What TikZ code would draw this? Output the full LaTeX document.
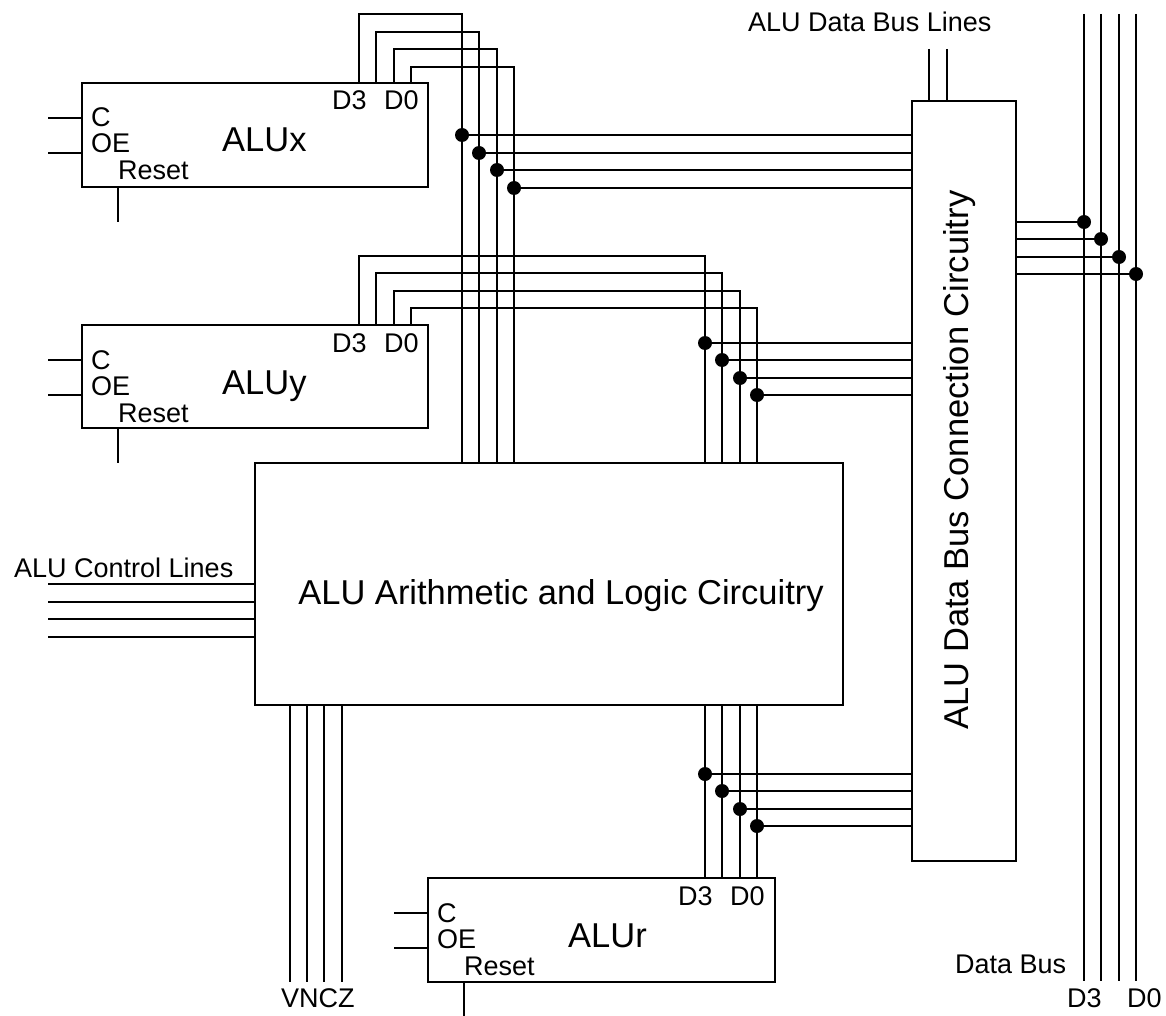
\documentclass[tikz,border=0pt]{standalone}
\usepackage{fontspec}
\setmainfont{Liberation Sans}
\usetikzlibrary{positioning, calc}
\tikzset{
  box/.style={rectangle, draw, line width=2pt, inner sep=0pt, outer sep=0pt},
  wire/.style={line width=2pt},
  dot/.style={circle, fill, inner sep=0pt, minimum size=14pt},
  pin/.style={font=\fontsize{27pt}{30pt}\selectfont, inner sep=0pt},
  title/.style={font=\fontsize{34.5pt}{38pt}\selectfont, inner sep=0pt}
}

\begin{document}
\begin{tikzpicture}[x=1pt, y=-1pt]
  \useasboundingbox (0,0) rectangle (1166,1016);

  % Boxes
  \node[box, minimum width=346pt, minimum height=104pt, anchor=north west] (alux) at (82,83) {};
  \node[box, minimum width=346pt, minimum height=103pt, anchor=north west] (aluy) at (82,325) {};
  \node[box, minimum width=588pt, minimum height=242pt, anchor=north west] (alu) at (255,463) {};
  \node[box, minimum width=347pt, minimum height=104pt, anchor=north west] (alur) at (428,878) {};
  \node[box, minimum width=104pt, minimum height=760pt, anchor=north west] (bus) at (912,101) {};

  \node[title, anchor=base] (alutxt) at (561,604) {ALU Arithmetic and Logic Circuitry};
  \node[title, rotate=90, anchor=base] (bustxt) at (968,460) {ALU Data Bus Connection Circuitry};

  % Register labels and control inputs
  \foreach \b/\t in {alux/ALUx, aluy/ALUy, alur/ALUr}{
    \node[title, anchor=base west] (\b-t) at ($(\b.north west)+(140,69)$) {\t};
    \node[pin, anchor=base west] (\b-c) at ($(\b.north west)+(9,44)$) {C};
    \node[pin, anchor=base west] (\b-oe) at ($(\b.north west)+(9,70)$) {OE};
    \node[pin, anchor=base west] (\b-r) at ($(\b.north west)+(36,97)$) {Reset};
    \node[pin, anchor=base west] (\b-d3) at ($(\b.north west)+(250,27)$) {D3};
    \node[pin, anchor=base west] (\b-d0) at ($(\b.north west)+(302,27)$) {D0};
    \draw[wire] ($(\b.north west)+(0,35)$) -- ++(-34,0);
    \draw[wire] ($(\b.north west)+(0,70)$) -- ++(-34,0);
    \draw[wire] ($(\b.south west)+(36,0)$) -- ++(0,35);
  }

  % ALUx data lines
  \foreach \i in {0,...,3}{
    \draw[wire] ($(alux.north west)+({277+round(17.3*\i)},0)$) |- ({462+round(17.3*\i)},{14+round(17.5*\i)}) coordinate (xr\i) -- (xr\i |- alu.north);
    \node[dot] (xd\i) at ({462+round(17.3*\i)},{135+round(17.5*\i)}) {};
    \draw[wire] (xd\i.center) -- (xd\i.center -| bus.west);
  }

  % ALUy data lines
  \foreach \i in {0,...,3}{
    \draw[wire] ($(aluy.north west)+({277+round(17.3*\i)},0)$) |- ({705+round(17.3*\i)},{256+round(17.4*\i)}) coordinate (yr\i) -- (yr\i |- alu.north);
    \node[dot] (yd\i) at ({705+round(17.3*\i)},{343+round(17.3*\i)}) {};
    \draw[wire] (yd\i.center) -- (yd\i.center -| bus.west);
  }

  % ALUr data lines
  \foreach \i in {0,...,3}{
    \coordinate (rp\i) at ($(alur.north west)+({277+round(17.3*\i)},0)$);
    \draw[wire] (rp\i) -- (rp\i |- alu.south);
    \node[dot] (rd\i) at ($(rp\i)+(0,{-104+round(17.4*\i)})$) {};
    \draw[wire] (rd\i.center) -- (rd\i.center -| bus.west);
  }

  % Data bus
  \foreach \i in {0,...,3}{
    \coordinate (dt\i) at ({1084+round(17.3*\i)},14);
    \coordinate (db\i) at ({1084+round(17.3*\i)},981);
    \draw[wire] (dt\i) -- (db\i);
    \node[dot] (bd\i) at ({1084+round(17.3*\i)},{222+round(17.3*\i)}) {};
    \draw[wire] (bd\i.center -| bus.east) -- (bd\i.center);
  }
  \node[pin, anchor=base west] (dbus) at (955,973) {Data Bus};
  \node[pin, anchor=base west] (dbd3) at (1067,1007) {D3};
  \node[pin, anchor=base west] (dbd0) at (1127,1007) {D0};

  % ALU data bus lines
  \foreach \x in {929,947}{
    \coordinate (bl\x) at (\x,49);
    \draw[wire] (bl\x) -- (bl\x |- bus.north);
  }
  \node[pin, anchor=base west] (bltxt) at (748,32) {ALU Data Bus Lines};

  % Control lines and flags
  \foreach \i in {0,...,3}{
    \coordinate (c\i) at (48,{584+round(17.7*\i)});
    \draw[wire] (c\i) -- (c\i -| alu.west);
    \coordinate (f\i) at ({290+round(17.2*\i)},982);
    \draw[wire] (f\i |- alu.south) -- (f\i);
  }
  \node[pin, anchor=base west] (ctltxt) at (14,577) {ALU Control Lines};
  \node[pin, anchor=base west] (flagtxt) at (281,1007) {VNCZ};
\end{tikzpicture}
\end{document}
